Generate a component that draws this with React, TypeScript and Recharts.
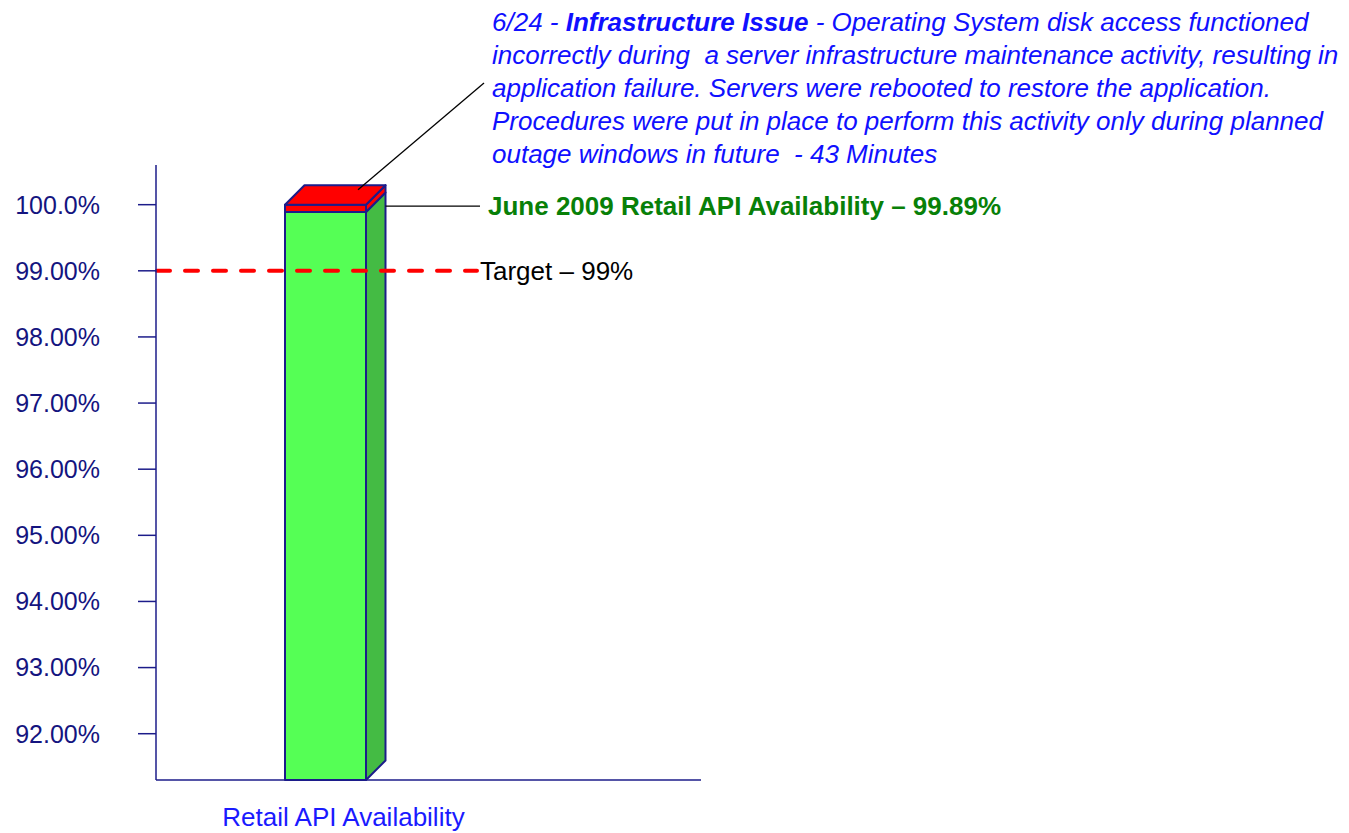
import React from "react";
import { ComposedChart, Bar, XAxis, YAxis, ReferenceLine } from "recharts";

// values
const categories = ["Retail API Availability"];
const availability = [99.89];
const targetValue = 99;
const yTicks = [92, 93, 94, 95, 96, 97, 98, 99, 100];
const yMin = 91.3;
const yMax = 100.6;
const fullScale = 100;

const barLabel = "June 2009 Retail API Availability – 99.89%";
const targetLabel = "Target – 99%";
const commentLines = [
  "incorrectly during  a server infrastructure maintenance activity, resulting in",
  "application failure. Servers were rebooted to restore the application.",
  "Procedures were put in place to perform this activity only during planned",
  "outage windows in future  - 43 Minutes",
];

const NAVY = "#1c1c8a";
const FONT = '"Liberation Sans", Arial, sans-serif';

const data = categories.map((name, i) => ({
  name,
  availability: availability[i],
  range: [yMin, fullScale],
}));

function Bar3D(props: any) {
  const { x, y, width, height, payload } = props;
  if (x === undefined || y === undefined || !payload) return null;
  const ratio = height / (fullScale - yMin);
  const splitY = y + (fullScale - payload.availability) * ratio;
  const d = 19.5;
  const right = x + width;
  const base = y + height;
  return (
    <g>
      <g stroke={NAVY} strokeWidth={2} strokeLinejoin="round">
        <rect x={x} y={splitY} width={width} height={base - splitY} fill="#55ff55" />
        <rect x={x} y={y} width={width} height={splitY - y} fill="#ff0000" />
        <polygon
          points={`${right},${splitY} ${right + d},${splitY - d} ${right + d},${base - d} ${right},${base}`}
          fill="#44bb44"
        />
        <polygon
          points={`${right},${y} ${right + d},${y - d} ${right + d},${splitY - d} ${right},${splitY}`}
          fill="#ff0000"
        />
        <polygon
          points={`${x},${y} ${x + d},${y - d} ${right + d},${y - d} ${right},${y}`}
          fill="#ff0000"
        />
      </g>
      {/* leader lines */}
      <line x1={right + d} y1={y + 1.5} x2={480} y2={y + 1.5} stroke="#000" strokeWidth={1.3} />
      <line x1={x + 73} y1={y - 15} x2={484} y2={83} stroke="#000" strokeWidth={1.3} />
      <text
        x={488}
        y={y + 1.5}
        dy="0.35em"
        fill="#088008"
        fontFamily={FONT}
        fontWeight="bold"
        fontSize={26}
      >
        {barLabel}
      </text>
    </g>
  );
}

function TargetLine(props: any) {
  const { x1, y1 } = props;
  if (x1 === undefined) return null;
  const end = 477;
  return (
    <g>
      <line
        x1={x1 + 1}
        y1={y1}
        x2={end}
        y2={y1}
        stroke="#ff0000"
        strokeWidth={4}
        strokeDasharray="13 15"
        strokeLinecap="round"
      />
      <text x={end + 3} y={y1} dy="0.35em" fill="#000" fontFamily={FONT} fontSize={26}>
        {targetLabel}
      </text>
    </g>
  );
}

const fmtTick = (v: number) => (v === 100 ? "100.0%" : `${v.toFixed(2)}%`);

export default function App() {
  return (
    <div style={{ position: "absolute", left: 0, top: 0, width: 1349, height: 833 }}>
      <ComposedChart
        width={1349}
        height={833}
        data={data}
        margin={{ top: 165, right: 648, bottom: 0, left: 0 }}
      >
        <XAxis
          dataKey="name"
          padding={{ left: 0, right: 206 }}
          axisLine={{ stroke: NAVY, strokeWidth: 1.5 }}
          tickLine={false}
          tickSize={0}
          tickMargin={0}
          height={53}
          tick={(p: any) => (
            <text
              x={p.x + 18}
              y={p.y}
              dy={46}
              textAnchor="middle"
              fill="#1a1aff"
              fontFamily={FONT}
              fontSize={26}
            >
              {p.payload.value}
            </text>
          )}
        />
        <YAxis
          type="number"
          domain={[yMin, yMax]}
          ticks={yTicks}
          width={156}
          tickSize={18}
          tickMargin={38}
          tickFormatter={fmtTick}
          axisLine={{ stroke: NAVY, strokeWidth: 1.5 }}
          tickLine={{ stroke: NAVY, strokeWidth: 1.5 }}
          tick={{ fill: "#14147f", fontFamily: FONT, fontSize: 25 }}
        />
        <Bar dataKey="range" barSize={81} isAnimationActive={false} shape={<Bar3D />} />
        <ReferenceLine y={targetValue} shape={<TargetLine />} />
      </ComposedChart>
      <div
        style={{
          position: "absolute",
          left: 492,
          top: 6,
          whiteSpace: "pre",
          fontFamily: FONT,
          fontStyle: "italic",
          fontSize: 26,
          lineHeight: "33px",
          color: "#1010ff",
        }}
      >
        <div>
          6/24 - <b>Infrastructure Issue</b> - Operating System disk access functioned
        </div>
        {commentLines.map((l) => (
          <div key={l}>{l}</div>
        ))}
      </div>
    </div>
  );
}
